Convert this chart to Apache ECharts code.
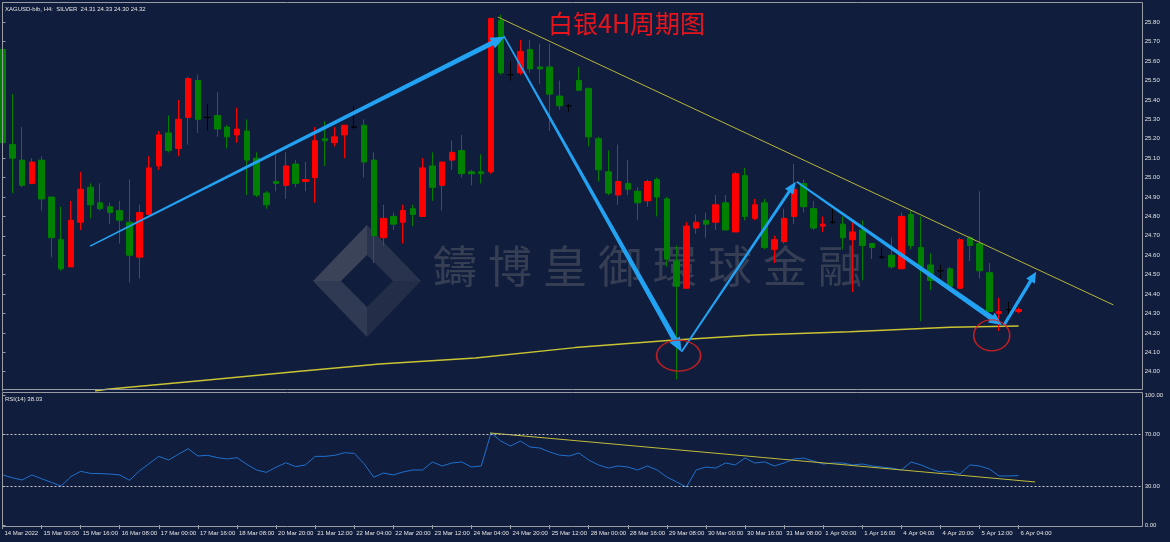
<!DOCTYPE html>
<html><head><meta charset="utf-8">
<script src="https://cdn.jsdelivr.net/npm/echarts@6/dist/echarts.min.js"></script>
<style>html,body{margin:0;padding:0;background:#101d3d;}#c{width:1170px;height:542px;}</style>
</head><body><div id="c"></div>
<script>
// ---- data ----
const tickLabels = ['14 Mar 2022','15 Mar 00:00','15 Mar 16:00','16 Mar 08:00','17 Mar 00:00','17 Mar 16:00','18 Mar 08:00','20 Mar 20:00','21 Mar 12:00','22 Mar 04:00','22 Mar 20:00','23 Mar 12:00','24 Mar 04:00','24 Mar 20:00','25 Mar 12:00','28 Mar 00:00','28 Mar 16:00','29 Mar 08:00','30 Mar 00:00','30 Mar 16:00','31 Mar 08:00','1 Apr 00:00','1 Apr 16:00','4 Apr 04:00','4 Apr 20:00','5 Apr 12:00','6 Apr 04:00'];
const priceTicks = [24.0,24.1,24.2,24.3,24.4,24.5,24.6,24.7,24.8,24.9,25.0,25.1,25.2,25.3,25.4,25.5,25.6,25.7,25.8];
const rsiTicks = [0,30,70,100];
const openP  = [25.66,25.17,25.09,24.97,25.09,24.90,24.68,24.54,24.77,24.95,24.87,24.85,24.83,24.77,24.59,24.81,25.06,25.23,25.15,25.31,25.50,25.31,25.32,25.26,25.22,25.24,25.10,24.92,24.98,24.96,25.07,24.98,25.00,25.20,25.18,25.22,25.26,25.27,25.09,24.69,24.80,24.77,24.84,24.80,25.06,24.96,25.09,25.14,25.03,25.03,25.03,25.81,25.53,25.54,25.66,25.57,25.57,25.42,25.37,25.50,25.46,25.20,25.03,24.91,24.97,24.93,24.88,24.99,24.89,24.57,24.43,24.74,24.78,24.77,24.87,24.72,25.01,24.79,24.87,24.63,24.67,24.80,24.97,24.84,24.75,24.77,24.76,24.68,24.73,24.66,24.59,24.60,24.53,24.81,24.64,24.55,24.52,24.53,24.43,24.69,24.66,24.51,24.30,24.32,24.31];
const closeP = [25.18,25.10,24.96,25.08,24.89,24.69,24.53,24.78,24.94,24.86,24.84,24.82,24.78,24.60,24.82,25.05,25.22,25.14,25.30,25.51,25.30,25.31,25.25,25.21,25.25,25.09,24.91,24.86,24.97,25.06,24.97,24.99,25.19,25.19,25.21,25.27,25.26,25.08,24.70,24.79,24.76,24.83,24.81,25.05,24.95,25.08,25.13,25.02,25.02,25.02,25.82,25.54,25.53,25.65,25.56,25.56,25.43,25.37,25.37,25.45,25.21,25.04,24.92,24.98,24.94,24.87,24.98,24.90,24.58,24.44,24.75,24.77,24.76,24.86,24.73,25.02,24.80,24.86,24.64,24.68,24.79,24.94,24.85,24.74,24.76,24.77,24.69,24.72,24.65,24.64,24.59,24.54,24.80,24.65,24.54,24.47,24.52,24.44,24.68,24.65,24.52,24.31,24.31,24.32,24.32];
const lowP   = [25.16,24.92,24.95,24.97,24.83,24.59,24.52,24.54,24.73,24.79,24.83,24.76,24.66,24.46,24.48,24.81,25.04,25.13,25.11,25.17,25.23,25.24,25.21,25.15,25.18,24.91,24.90,24.84,24.93,24.89,24.95,24.93,24.87,25.06,25.16,25.10,25.25,25.00,24.56,24.65,24.73,24.66,24.75,24.80,24.88,24.83,25.04,25.00,24.96,24.97,25.02,25.53,25.50,25.53,25.54,25.48,25.24,25.35,25.34,25.45,25.16,24.98,24.91,24.86,24.91,24.78,24.85,24.80,24.54,23.96,24.43,24.71,24.69,24.73,24.73,24.72,24.78,24.78,24.63,24.56,24.66,24.76,24.82,24.73,24.72,24.76,24.63,24.41,24.47,24.58,24.58,24.53,24.53,24.63,24.26,24.42,24.48,24.43,24.43,24.57,24.48,24.31,24.21,24.28,24.30];
const highP  = [25.68,25.43,25.26,25.10,25.11,24.90,24.85,24.88,25.03,24.97,24.97,24.87,24.88,24.99,24.86,25.11,25.24,25.32,25.40,25.52,25.53,25.38,25.44,25.27,25.36,25.30,25.13,24.93,25.12,25.13,25.09,25.08,25.26,25.29,25.26,25.27,25.37,25.30,25.13,24.86,24.82,24.86,24.86,25.10,25.13,25.08,25.19,25.22,25.04,25.12,25.82,25.84,25.60,25.71,25.71,25.69,25.69,25.50,25.38,25.57,25.46,25.21,25.14,25.17,25.09,24.95,24.99,25.00,24.90,24.65,24.77,24.81,24.82,24.91,24.91,25.03,25.05,24.89,24.89,24.70,24.84,25.07,24.99,24.88,24.80,24.84,24.80,24.77,24.78,24.66,24.64,24.69,24.82,24.83,24.80,24.61,24.55,24.54,24.69,24.70,24.93,24.56,24.38,24.36,24.33];
const rsiValues = [38.5,36.4,34.6,38.5,35.6,32.8,30.0,37.2,41.3,39.7,39.5,39.2,38.5,34.4,41.5,47.2,52.8,50.0,54.4,58.7,53.1,53.6,51.8,50.8,51.8,46.7,42.3,40.5,44.4,47.9,44.9,46.2,52.8,52.8,53.6,55.6,55.1,47.2,36.7,40.0,38.5,
  40.8,42.3,42.3,48.5,45.4,47.7,48.5,44.6,45.4,70.8,64.6,60.8,64.6,60.0,59.2,56.2,53.8,53.1,55.4,50.0,46.2,43.8,45.4,44.6,42.3,45.4,42.3,36.9,33.1,29.2,42.3,44.6,43.8,47.7,46.2,51.5,47.7,48.5,45.4,47.7,50.8,51.5,49.2,46.9,47.7,47.7,46.2,46.9,45.4,44.6,43.8,42.3,48.5,46.2,43.1,40.8,41.5,39.2,46.2,45.4,43.1,37.7,37.7,38.03];
const maPoints = [[9.47,23.90],[10.7,23.909],[20.2,23.953],[30.45,24.002],[38.6,24.040],[48.4,24.070],[58.6,24.124],[68.8,24.163],[77.0,24.189],[86.7,24.206],[97.0,24.229],[104,24.235]];
const trendLine = [[50.7,25.827],[113.7,24.344]];
const rsiTrend = [[49.9,70.8],[105.7,33.1]];
const arrows = [[8.96,24.647,51.4,25.726],[51.3,25.73,69.5,24.103],[69.5,24.103,81.2,24.979],[81.3,24.979,102.3,24.24],[102.5,24.24,105.8,24.515]];
const circles = [[69.2,24.083],[101.25,24.187]];
const headerText = 'XAGUSD-bib, H4:  SILVER  24.31 24.33 24.30 24.32';
const rsiText = 'RSI(14) 38.03';
const titleText = '白银4H周期图';
const watermark = '鑄博皇御環球金融';

// ---- styles (not data) ----
const arrowStyles = [{w0:1.5,w1:5,head:14,hw:6},{w0:1.5,w1:5.5,head:14,hw:6},{w0:1.8,w1:3,head:12,hw:5},{w0:1.8,w1:5.5,head:13,hw:6},{w0:3,w1:3.5,head:11,hw:5}];
const circleSizes = [[44,31],[36,31]];
const BG = '#101d3d', TXT = '#e2e2e2', FRAME = '#9a9ca4';
const XMIN = 0, XMAX = 116.7;

const candleData = openP.map((o,i)=>[i,o,closeP[i],lowP[i],highP[i]]);
const rsiData = rsiValues.map((v,i)=>[i,v]);
const tickPos = tickLabels.map((_,i)=>i*4);

const chart = echarts.init(document.getElementById('c'));
const small = {fontFamily:'Liberation Sans', fontSize:6, color:TXT};

const gfx = [];
const O = {l:[313,281],t:[367,225],r:[421,281],b:[367,337]};
const I = {l:[341,281],t:[367,255],r:[393,281],b:[367,307]};
const facet = (pts, fill)=>({type:'polygon', z:0, shape:{points:pts}, style:{fill:fill}, silent:true});
gfx.push(facet([O.l,O.t,I.t,I.l],'rgba(140,140,140,0.35)'));
gfx.push(facet([O.t,O.r,I.r,I.t],'rgba(110,110,120,0.28)'));
gfx.push(facet([O.r,O.b,I.b,I.r],'rgba(90,90,100,0.28)'));
gfx.push(facet([O.b,O.l,I.l,I.b],'rgba(120,120,130,0.32)'));
[...watermark].forEach((ch,i)=>gfx.push({type:'text', z:0, silent:true, left:433+i*55, top:244, style:{text:ch, font:'44px "Noto Sans CJK TC"', fill:'rgba(130,130,130,0.33)'}}));
gfx.push({type:'rect', z:100, silent:true, shape:{x:2.5,y:2.5,width:1140,height:387}, style:{fill:null, stroke:FRAME, lineWidth:1}});
gfx.push({type:'rect', z:100, silent:true, shape:{x:2.5,y:392.5,width:1140,height:134}, style:{fill:null, stroke:FRAME, lineWidth:1}});
gfx.push({type:'text', z:100, left:5, top:6, style:{text:headerText, font:'6px "Liberation Sans"', fill:TXT}});
gfx.push({type:'text', z:100, left:5, top:396, style:{text:rsiText, font:'6px "Liberation Sans"', fill:TXT}});

chart.setOption({
  backgroundColor: BG,
  animation: false,
  title: {text:titleText, left:543, top:6, textStyle:{color:'#e8141c', fontSize:25, fontWeight:'normal', fontFamily:'Noto Sans CJK SC'}},
  graphic: gfx,
  grid: [
    {left:2.5, right:27.3, top:2.9, height:388.2},
    {left:2.5, right:27.3, top:395, height:130}
  ],
  xAxis: [
    {type:'value', gridIndex:0, min:XMIN, max:XMAX, show:false},
    {type:'value', gridIndex:1, min:XMIN, max:XMAX, position:'bottom', offset:2,
     axisLine:{show:false}, splitLine:{show:false},
     axisTick:{show:true, customValues:tickPos, length:4, lineStyle:{color:FRAME}},
     axisLabel:{customValues:tickPos, formatter:v=>tickLabels[Math.round(v/4)], align:'left', margin:3, padding:[0,0,0,2], showMinLabel:true, showMaxLabel:true, ...small}}
  ],
  yAxis: [
    {type:'value', gridIndex:0, position:'right', min:23.9, max:25.9, interval:0.1,
     axisLine:{show:true, lineStyle:{color:FRAME}}, splitLine:{show:false},
     axisTick:{show:true, customValues:priceTicks, length:3, lineStyle:{color:FRAME}},
     axisLabel:{customValues:priceTicks, formatter:v=>v.toFixed(2), margin:2, ...small}},
    {type:'value', gridIndex:1, position:'right', min:0, max:100,
     axisLine:{show:true, lineStyle:{color:FRAME}}, splitLine:{show:false},
     axisTick:{show:true, customValues:rsiTicks, length:3, lineStyle:{color:FRAME}},
     axisLabel:{customValues:rsiTicks, formatter:v=>v.toFixed(2), margin:2, ...small}}
  ],
  series: [
    {type:'line', xAxisIndex:0, yAxisIndex:0, data:maPoints, showSymbol:false, symbol:'none', lineStyle:{color:'#c9c432', width:1.5}, z:3},
    {type:'candlestick', xAxisIndex:0, yAxisIndex:0, data:candleData, encode:{x:0, y:[1,2,3,4]}, barWidth:6,
     itemStyle:{color:'#ff0000', color0:'#008000', borderColor:'#ff0000', borderColor0:'#008000', borderColorDoji:'#000000', borderWidth:1}, z:4},
    {type:'line', xAxisIndex:0, yAxisIndex:0, data:trendLine, showSymbol:false, symbol:'none', lineStyle:{color:'#b9b53c', width:1}, z:5},
    {type:'custom', xAxisIndex:0, yAxisIndex:0, data:arrows, encode:{x:[0,2], y:[1,3]}, z:6, clip:false,
     renderItem:function(params, api){
       const a = api.coord([api.value(0), api.value(1)]);
       const b = api.coord([api.value(2), api.value(3)]);
       const st = arrowStyles[params.dataIndex];
       const dx=b[0]-a[0], dy=b[1]-a[1], L=Math.hypot(dx,dy);
       const ux=dx/L, uy=dy/L, nx=-uy, ny=ux;
       const hb=[b[0]-ux*st.head, b[1]-uy*st.head];
       const pts=[[a[0]+nx*st.w0/2,a[1]+ny*st.w0/2],[hb[0]+nx*st.w1/2,hb[1]+ny*st.w1/2],[hb[0]+nx*st.hw,hb[1]+ny*st.hw],b,
                  [hb[0]-nx*st.hw,hb[1]-ny*st.hw],[hb[0]-nx*st.w1/2,hb[1]-ny*st.w1/2],[a[0]-nx*st.w0/2,a[1]-ny*st.w0/2]];
       return {type:'polygon', shape:{points:pts}, style:{fill:'#22a2f2'}};
     }},
    {type:'scatter', xAxisIndex:0, yAxisIndex:0, z:7,
     data:circles.map((c,i)=>({value:c, symbolSize:circleSizes[i]})),
     symbol:'circle', itemStyle:{color:'rgba(0,0,0,0)', borderColor:'#e8201c', borderWidth:1.5}},
    {type:'line', xAxisIndex:1, yAxisIndex:1, data:rsiData, showSymbol:false, symbol:'none', lineStyle:{color:'#2170cc', width:1}, z:3,
     markLine:{silent:true, symbol:'none', label:{show:false}, lineStyle:{color:'#c8c8c8', type:[2,2], width:1},
       data:[{yAxis:70},{yAxis:30}]}},
    {type:'line', xAxisIndex:1, yAxisIndex:1, data:rsiTrend, showSymbol:false, symbol:'none', lineStyle:{color:'#c0bb3a', width:1}, z:4}
  ]
});
</script></body></html>
